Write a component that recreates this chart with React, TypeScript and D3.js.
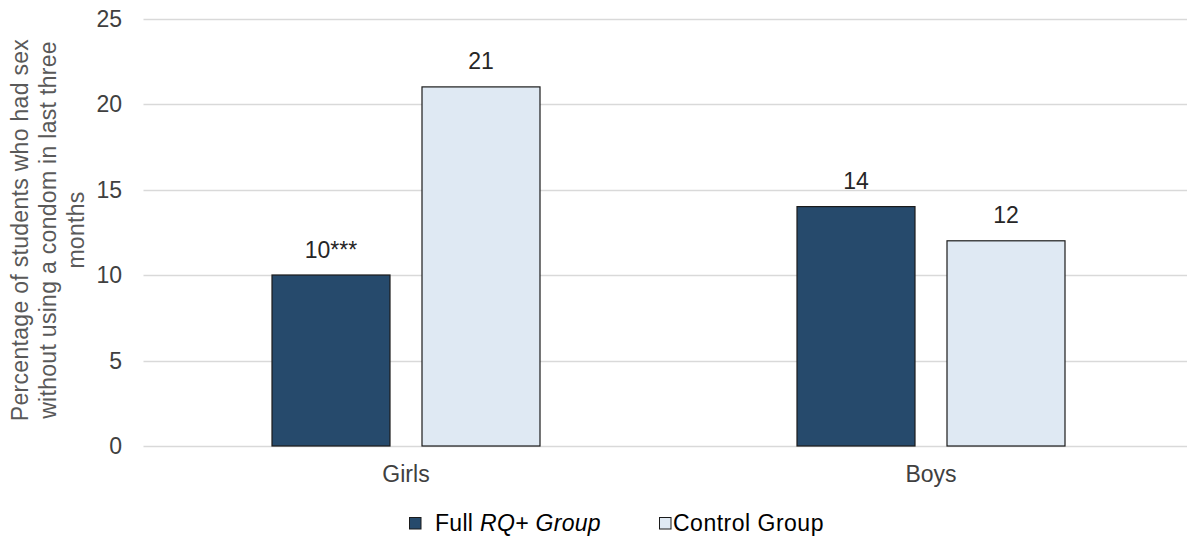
import React from "react";
import * as d3 from "d3";

const categories = ["Girls", "Boys"];
const seriesNames = ["Full", "Control Group"];
const fullValues = [10, 14];
const controlValues = [21, 12];
const fullLabels = ["10***", "14"];
const controlLabels = ["21", "12"];
const yTicks = [0, 5, 10, 15, 20, 25];

const W = 1187;
const H = 541;
const DARK = "#264a6c";
const LIGHT = "#dfe9f3";
const FONT = "Liberation Sans, Arial, sans-serif";
const FS = 23;

export default function App() {
  const left = 143.5;
  const right = 1193.5;
  const top = 18.5;
  const bottom = 446;
  const x = d3.scaleBand<string>().domain(categories).range([left, right]).padding(0);
  const y = d3.scaleLinear().domain([0, 25]).range([bottom, top]);
  const barW = 118;
  const gap = 32;
  const series = [
    { values: fullValues, labels: fullLabels, fill: DARK },
    { values: controlValues, labels: controlLabels, fill: LIGHT },
  ];
  return (
    <div style={{ position: "absolute", left: 0, top: 0 }}>
      <svg width={W} height={H} style={{ display: "block", fontFamily: FONT }}>
        <rect x={0} y={0} width={W} height={H} fill="#fff" />
        {yTicks.map((t) => (
          <g key={t}>
            <line x1={left} x2={W} y1={Math.round(y(t)) + 0.5} y2={Math.round(y(t)) + 0.5} stroke="#d9d9d9" strokeWidth={1.3} />
            <text x={122} y={y(t)} dy="0.35em" textAnchor="end" fontSize={FS} fill="#404040">
              {t}
            </text>
          </g>
        ))}
        {categories.map((c, i) => {
          const cx = x(c)! + x.bandwidth() / 2;
          const groupW = barW * 2 + gap;
          return (
            <g key={c}>
              {series.map((s, j) => {
                const bx = cx - groupW / 2 + j * (barW + gap);
                const v = s.values[i];
                return (
                  <g key={j}>
                    <rect x={bx} y={y(v)} width={barW} height={y(0) - y(v)} fill={s.fill} stroke="#1b1b1b" strokeWidth={1.2} />
                    <text x={bx + barW / 2} y={y(v) - 17.5} textAnchor="middle" fontSize={FS} fill="#262626">
                      {s.labels[i]}
                    </text>
                  </g>
                );
              })}
              <text x={cx} y={482} textAnchor="middle" fontSize={FS} fill="#404040">
                {c}
              </text>
            </g>
          );
        })}
        <g transform={`translate(48, 230) rotate(-90)`}>
          <text textAnchor="middle" fontSize={FS} fill="#595959" letterSpacing={0.3}>
            <tspan x={0} y={-20}>Percentage of students who had sex</tspan>
            <tspan x={0} y={8}>without using a condom in last three</tspan>
            <tspan x={0} y={36}>months</tspan>
          </text>
        </g>
        <g>
          <rect x={409.5} y={517.5} width={11.5} height={11.5} fill={DARK} stroke="#1b1b1b" strokeWidth={1} />
          <text x={435} y={531} fontSize={FS} fill="#000" letterSpacing={0.3}>
            {seriesNames[0]} <tspan fontStyle="italic">RQ+ Group</tspan>
          </text>
          <rect x={659.5} y={517.5} width={11.5} height={11.5} fill={LIGHT} stroke="#1b1b1b" strokeWidth={1} />
          <text x={673} y={531} fontSize={FS} fill="#000" letterSpacing={0.5}>
            {seriesNames[1]}
          </text>
        </g>
      </svg>
    </div>
  );
}
